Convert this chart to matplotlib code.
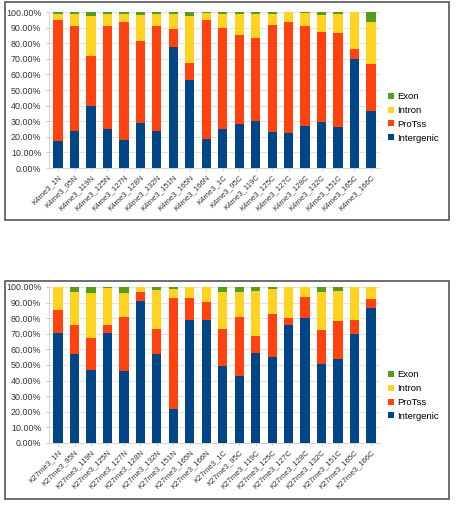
import matplotlib
matplotlib.use("Agg")
import matplotlib.pyplot as plt
from matplotlib.patches import Rectangle
from matplotlib.ticker import FuncFormatter, MultipleLocator

plt.rcParams['font.family'] = ['Liberation Sans', 'DejaVu Sans']

samples = ["1N", "95N", "119N", "125N", "127N", "128N", "132N", "151N", "165N", "166N",
           "1C", "95C", "119C", "125C", "127C", "128C", "132C", "151C", "165C", "166C"]
categories = ["Intergenic", "ProTss", "Intron", "Exon"]
colors = ["#004586", "#ff420e", "#ffd320", "#579d1c"]

# K4me3 (fractions, stacked bottom to top)
k4_intergenic = [0.171, 0.240, 0.400, 0.250, 0.178, 0.290, 0.235, 0.775, 0.565, 0.188,
                 0.248, 0.283, 0.304, 0.229, 0.225, 0.272, 0.298, 0.261, 0.696, 0.364]
k4_protss = [0.775, 0.672, 0.317, 0.658, 0.760, 0.524, 0.673, 0.115, 0.107, 0.762,
             0.647, 0.571, 0.529, 0.687, 0.713, 0.638, 0.574, 0.602, 0.066, 0.302]
k4_intron = [0.043, 0.078, 0.255, 0.082, 0.052, 0.166, 0.082, 0.100, 0.304, 0.044,
             0.095, 0.131, 0.157, 0.074, 0.060, 0.086, 0.108, 0.127, 0.238, 0.270]
k4_exon = [0.011, 0.010, 0.028, 0.010, 0.010, 0.020, 0.010, 0.010, 0.024, 0.006,
           0.010, 0.015, 0.010, 0.010, 0.002, 0.004, 0.020, 0.010, 0.000, 0.064]

# K27me3
k27_intergenic = [0.705, 0.568, 0.470, 0.705, 0.464, 0.910, 0.570, 0.218, 0.790, 0.790,
                  0.493, 0.427, 0.577, 0.549, 0.759, 0.799, 0.506, 0.538, 0.701, 0.865]
k27_protss = [0.145, 0.191, 0.203, 0.054, 0.342, 0.056, 0.160, 0.709, 0.142, 0.114,
              0.237, 0.379, 0.111, 0.278, 0.042, 0.135, 0.220, 0.242, 0.085, 0.058]
k27_intron = [0.150, 0.211, 0.289, 0.235, 0.156, 0.034, 0.253, 0.063, 0.068, 0.096,
              0.236, 0.160, 0.288, 0.160, 0.199, 0.066, 0.240, 0.194, 0.211, 0.077]
k27_exon = [0.000, 0.030, 0.038, 0.006, 0.038, 0.000, 0.017, 0.010, 0.000, 0.000,
            0.034, 0.034, 0.024, 0.013, 0.000, 0.000, 0.034, 0.026, 0.003, 0.000]

panels = [
    ("K4me3", [k4_intergenic, k4_protss, k4_intron, k4_exon]),
    ("K27me3", [k27_intergenic, k27_protss, k27_intron, k27_exon]),
]

W, H = 458, 507
fig = plt.figure(figsize=(W / 100, H / 100), dpi=100)

# (box top, box bottom, axes top, axes bottom, legend y) in pixels
layout = [(2, 220, 12, 168, 0.324), (281, 499, 287, 443, 0.304)]

for (mark, series), (btop, bbot, atop, abot, ly) in zip(panels, layout):
    fig.patches.append(Rectangle((5 / W, 1 - bbot / H), 444 / W, (bbot - btop) / H,
                                 transform=fig.transFigure, fill=False,
                                 edgecolor="#555555", linewidth=1.2))
    ax = fig.add_axes([49 / W, 1 - abot / H, 331 / W, (abot - atop) / H])
    x = range(len(samples))
    bottom = [0.0] * len(samples)
    handles = []
    for cat, vals, col in zip(categories, series, colors):
        b = ax.bar(x, vals, bottom=bottom, width=0.56, color=col, label=cat, zorder=3)
        handles.append(b)
        bottom = [p + v for p, v in zip(bottom, vals)]

    ax.set_ylim(0, 1)
    ax.set_xlim(-0.55, len(samples) - 0.45)
    ax.yaxis.set_major_locator(MultipleLocator(0.1))
    ax.yaxis.set_major_formatter(FuncFormatter(lambda v, p: f"{v * 100:.2f}%"))
    ax.grid(axis="y", color="#dddddd", linewidth=0.6, zorder=0)
    ax.set_xticks(list(x))
    ax.set_xticklabels([f"{mark}_{s}" for s in samples], rotation=45, ha="right",
                       rotation_mode="anchor", fontsize=5.6, color="#333333")
    ax.tick_params(axis="y", labelsize=6.4, colors="#333333", length=2, color="#cccccc")
    ax.tick_params(axis="x", length=2, color="#e8d8a0", pad=2)
    for s in ["top", "right"]:
        ax.spines[s].set_visible(False)
    for s in ["left", "bottom"]:
        ax.spines[s].set_color("#cccccc")
        ax.spines[s].set_linewidth(0.6)

    ax.legend(handles[::-1], categories[::-1], loc="center left",
              bbox_to_anchor=(1.01, ly), frameon=False, fontsize=6.8,
              handlelength=0.6, handleheight=0.6, handletextpad=0.4,
              labelspacing=0.5, borderpad=0)

fig.savefig("out.png", dpi=100)
